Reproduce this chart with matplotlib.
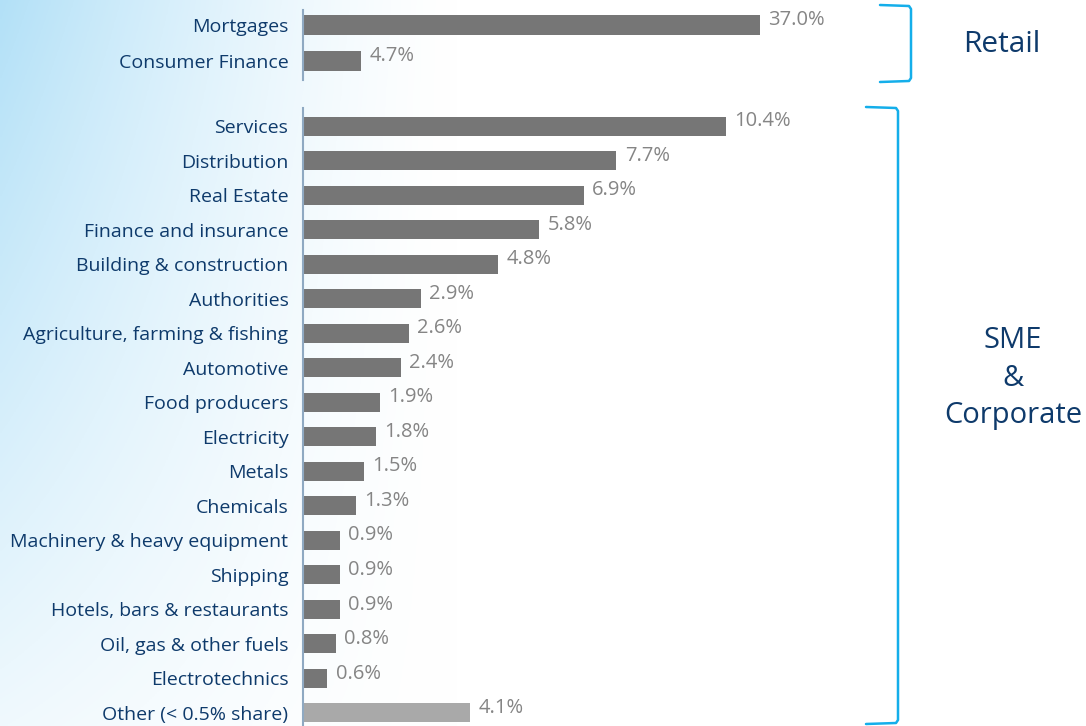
import numpy as np
import matplotlib
matplotlib.use("Agg")
import matplotlib.pyplot as plt
from matplotlib.lines import Line2D

plt.rcParams['font.family'] = ['Open Sans', 'DejaVu Sans']

retail_labels = ["Mortgages", "Consumer Finance"]
retail_values = [37.0, 4.7]

sme_labels = ["Services", "Distribution", "Real Estate", "Finance and insurance",
              "Building & construction", "Authorities", "Agriculture, farming & fishing",
              "Automotive", "Food producers", "Electricity", "Metals", "Chemicals",
              "Machinery & heavy equipment", "Shipping", "Hotels, bars & restaurants",
              "Oil, gas & other fuels", "Electrotechnics", "Other (< 0.5% share)"]
sme_values = [10.4, 7.7, 6.9, 5.8, 4.8, 2.9, 2.6, 2.4, 1.9, 1.8, 1.5, 1.3,
              0.9, 0.9, 0.9, 0.8, 0.6, 4.1]

W, H = 1086, 726
fig = plt.figure(figsize=(W / 100, H / 100), dpi=100)

def fx(px):
    return px / W

def fy(py):
    return 1 - py / H

# background gradient
bg = fig.add_axes([0, 0, 1, 1], zorder=-10)
xx = np.linspace(0, 1, 400)
yy = np.linspace(0, 1, 300)
X, Y = np.meshgrid(xx, yy)
a = np.clip(1 - X / 0.42, 0, 1) ** 1.4 * (1 - 0.8 * Y)
base = np.array([0.70, 0.88, 0.97])
img = np.ones((300, 400, 3)) * (1 - a[..., None]) + base * a[..., None]
bg.imshow(img, extent=[0, 1, 0, 1], aspect='auto', origin='upper')
bg.set_xlim(0, 1); bg.set_ylim(0, 1)
bg.axis('off')

label_color = '#0E3A6B'
bar_color = '#767676'
other_color = '#A9A9A9'
val_color = '#858585'
spine_color = '#8FA9C2'
fs = 14
vfs = 14.5

ax_left = 303
ax_w = W - ax_left

# Retail axes
ax1 = fig.add_axes([fx(ax_left), fy(80), ax_w / W, 70 / H])
ax1.set_facecolor('none')
y1 = np.arange(len(retail_labels))
ax1.barh(y1, retail_values, height=0.56, color=bar_color)
ax1.set_xlim(0, ax_w / 12.35)
ax1.set_ylim(1 + 19 / 36, -15 / 36)

# SME axes
ax2 = fig.add_axes([fx(ax_left), 0, ax_w / W, (H - 108) / H])
ax2.set_facecolor('none')
y2 = np.arange(len(sme_labels))
colors = [bar_color] * (len(sme_labels) - 1) + [other_color]
ax2.barh(y2, sme_values, height=0.55, color=colors)
ax2.set_xlim(0, ax_w / 40.7)
ax2.set_ylim(17 + 13 / 34.5, -18 / 34.5)

for ax, labels, vals, yy_ in [(ax1, retail_labels, retail_values, y1),
                              (ax2, sme_labels, sme_values, y2)]:
    ax.set_yticks(yy_)
    ax.set_yticklabels(labels, fontsize=fs, color=label_color)
    ax.tick_params(axis='y', length=0, pad=10.5)
    ax.set_xticks([])
    for s in ['top', 'right', 'bottom']:
        ax.spines[s].set_visible(False)
    ax.spines['left'].set_color(spine_color)
    ax.spines['left'].set_linewidth(1.5)
    for yi, v in zip(yy_, vals):
        ax.annotate(f"{v:.1f}%", (v, yi), xytext=(6, 3.5), textcoords='offset points',
                    ha='left', va='center', fontsize=vfs, color=val_color)

# brackets
br_color = '#14AEEA'
def bracket(x0, x1, ytop, ybot):
    xs = [fx(x0), fx(x1 - 2), fx(x1), fx(x1), fx(x1 - 2), fx(x0)]
    ys = [fy(ytop), fy(ytop + 1), fy(ytop + 4), fy(ybot - 4), fy(ybot - 1), fy(ybot)]
    fig.add_artist(Line2D(xs, ys, transform=fig.transFigure, color=br_color,
                          lw=1.8, solid_capstyle='round', solid_joinstyle='round'))

bracket(880, 911, 5, 82)
bracket(866, 898, 107, 724)

fig.text(fx(1002), fy(45), "Retail", ha='center', va='center', fontsize=21.5, color=label_color)
fig.text(fx(1013), fy(378), "SME\n&\nCorporate", ha='center', va='center', fontsize=21,
         color=label_color, linespacing=1.37)

fig.savefig("out.png", dpi=100)
